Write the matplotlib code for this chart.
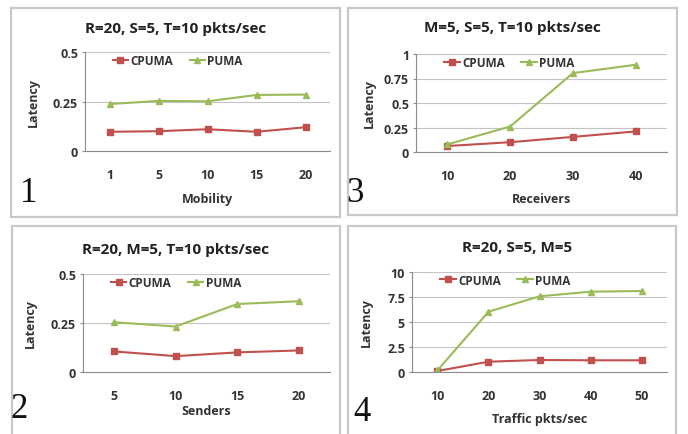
import matplotlib
matplotlib.use("Agg")
import matplotlib.pyplot as plt
from matplotlib.patches import Rectangle

# data
mobility = ["1", "5", "10", "15", "20"]
mob_cpuma = [0.097, 0.100, 0.110, 0.097, 0.120]
mob_puma = [0.237, 0.253, 0.251, 0.283, 0.285]

receivers = ["10", "20", "30", "40"]
rec_cpuma = [0.061, 0.100, 0.154, 0.210]
rec_puma = [0.078, 0.260, 0.805, 0.890]

senders = ["5", "10", "15", "20"]
snd_cpuma = [0.105, 0.081, 0.100, 0.110]
snd_puma = [0.254, 0.232, 0.347, 0.361]

traffic = ["10", "20", "30", "40", "50"]
trf_cpuma = [0.10, 1.03, 1.20, 1.17, 1.17]
trf_puma = [0.17, 6.03, 7.57, 8.03, 8.10]

RED = "#C0504D"
GREEN = "#9BBB59"
W, H = 688, 435
FONT = "Open Sans"

fig = plt.figure(figsize=(W / 100, H / 100), dpi=100)
fig.patch.set_facecolor("white")


def px_box(x0, y0, x1, y1):
    # pixel box (top-left origin) -> figure fraction rect
    return [x0 / W, 1 - y1 / H, (x1 - x0) / W, (y1 - y0) / H]


def panel(box, plot, title, title_xy, cats, cpuma, puma, ymax, yticks, yticklabels,
          xlabel, xlabel_y, ylabel_x, number, number_xy):
    x0, y0, x1, y1 = box
    fig.patches.append(Rectangle((x0 / W, 1 - y1 / H), (x1 - x0) / W, (y1 - y0) / H,
                                 transform=fig.transFigure, fill=False,
                                 edgecolor="#C8C8C8", linewidth=1.6))
    ax = fig.add_axes(px_box(*plot))
    xs = list(range(len(cats)))
    ax.plot(xs, cpuma, color=RED, marker="s", markersize=4.8, linewidth=1.5,
            label="CPUMA")
    ax.plot(xs, puma, color=GREEN, marker="^", markersize=4.8, linewidth=1.5,
            label="PUMA")
    ax.set_xlim(-0.5, len(cats) - 0.5)
    ax.set_ylim(0, ymax)
    ax.set_xticks(xs)
    ax.set_xticklabels(cats)
    ax.set_yticks(yticks)
    ax.set_yticklabels(yticklabels)
    ax.grid(axis="y", color="#C4C4C4", linewidth=0.8)
    ax.set_axisbelow(True)
    for s in ["top", "right"]:
        ax.spines[s].set_visible(False)
    ax.spines["left"].set_color("#8C8C8C")
    ax.spines["bottom"].set_color("#8C8C8C")
    ax.tick_params(axis="x", length=0, pad=12)
    ax.tick_params(axis="y", length=2, color="#8C8C8C", pad=3)
    for lab in ax.get_xticklabels() + ax.get_yticklabels():
        lab.set_fontfamily(FONT)
        lab.set_fontweight("bold")
        lab.set_fontsize(9)
        lab.set_color("#333333")
    leg = ax.legend(loc="upper left", bbox_to_anchor=(0.07, 1.09), ncol=2, frameon=False,
                    handlelength=1.3, handletextpad=0.2, columnspacing=1.4,
                    prop={"family": FONT, "weight": "bold", "size": 8.5})
    for t in leg.get_texts():
        t.set_color("#333333")
    fig.text(title_xy[0] / W, 1 - title_xy[1] / H, title, ha="center", va="center",
             family=FONT, weight="bold", fontsize=11, color="#222222")
    fig.text((plot[0] + plot[2]) / 2 / W, 1 - xlabel_y / H, xlabel, ha="center",
             va="center", family=FONT, weight="bold", fontsize=9, color="#333333")
    fig.text(ylabel_x / W, 1 - (plot[1] + plot[3]) / 2 / H, "Latency", ha="center",
             va="center", rotation=90, family=FONT, weight="bold", fontsize=9,
             color="#333333")
    fig.text(number_xy[0] / W, 1 - number_xy[1] / H, number, ha="left", va="center",
             family="Liberation Serif", fontsize=25, color="#111111")
    return ax


panel((11, 9, 340, 218), (85, 53, 330, 152), "R=20, S=5, T=10 pkts/sec", (176, 29),
      mobility, mob_cpuma, mob_puma, 0.5, [0, 0.25, 0.5], ["0", "0.25", "0.5"],
      "Mobility", 200, 33, "1", (20, 194))
panel((348, 9, 677, 216), (416, 55, 667, 153), "M=5, S=5, T=10 pkts/sec", (512, 28),
      receivers, rec_cpuma, rec_puma, 1.0, [0, 0.25, 0.5, 0.75, 1.0],
      ["0", "0.25", "0.5", "0.75", "1"], "Receivers", 200, 369, "3", (346, 194))
panel((12, 227, 340, 440), (83, 275, 330, 373), "R=20, M=5, T=10 pkts/sec", (175, 250),
      senders, snd_cpuma, snd_puma, 0.5, [0, 0.25, 0.5], ["0", "0.25", "0.5"],
      "Senders", 412, 30, "2", (10, 410))
panel((348, 227, 676, 440), (412, 273, 667, 373), "R=20, S=5, M=5", (517, 248),
      traffic, trf_cpuma, trf_puma, 10, [0, 2.5, 5, 7.5, 10],
      ["0", "2.5", "5", "7.5", "10"], "Traffic pkts/sec", 420, 366, "4", (353, 413))

fig.savefig("out.png", dpi=100)
